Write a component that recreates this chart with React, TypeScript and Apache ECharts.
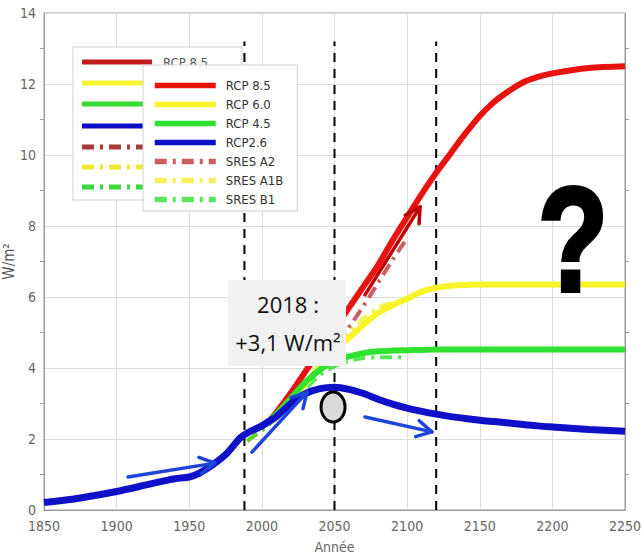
import React, { useEffect, useRef } from "react";
import * as echarts from "echarts";

// Historical forcing (shared start of the blue curve)
const histYears = [1850, 1875, 1900, 1925, 1940, 1950, 1957, 1966, 1976, 1985, 1990, 2000, 2005];
const histValues = [0.21, 0.34, 0.52, 0.75, 0.88, 0.93, 1.04, 1.27, 1.6, 2.03, 2.17, 2.37, 2.5];

// RCP scenarios
const rcpYears = [2005, 2010, 2020, 2030, 2040, 2050, 2060, 2070, 2080, 2090, 2100, 2110, 2120, 2130, 2140, 2150, 2160, 2170, 2180, 2190, 2200, 2225, 2250];
const rcp85 = [2.5, 2.75, 3.3, 3.9, 4.5, 5.1, 5.7, 6.3, 6.9, 7.6, 8.25, 8.9, 9.5, 10.05, 10.6, 11.1, 11.5, 11.8, 12.05, 12.2, 12.3, 12.45, 12.5];
const rcp60 = [2.5, 2.68, 3.1, 3.55, 4.05, 4.5, 4.85, 5.22, 5.55, 5.77, 5.95, 6.15, 6.26, 6.32, 6.34, 6.35, 6.35, 6.35, 6.35, 6.35, 6.35, 6.35, 6.35];
const rcp45 = [2.5, 2.7, 3.15, 3.6, 3.95, 4.2, 4.33, 4.42, 4.47, 4.49, 4.5, 4.51, 4.52, 4.52, 4.52, 4.52, 4.52, 4.52, 4.52, 4.52, 4.52, 4.52, 4.52];
const rcp26 = [2.5, 2.63, 3.0, 3.28, 3.42, 3.46, 3.4, 3.28, 3.12, 2.98, 2.87, 2.78, 2.7, 2.63, 2.58, 2.53, 2.49, 2.45, 2.41, 2.37, 2.34, 2.27, 2.22];

// SRES scenarios
const sresYears = [1990, 2000, 2010, 2020, 2030, 2040, 2050, 2060, 2070, 2080, 2090, 2100];
const sresA2 = [1.95, 2.25, 2.6, 3.0, 3.5, 4.0, 4.55, 5.15, 5.75, 6.4, 7.05, 7.65];
const sresA1B = [1.95, 2.25, 2.6, 3.0, 3.5, 4.0, 4.55, 5.0, 5.4, 5.7, 5.85, 5.95];
const sresB1 = [1.95, 2.25, 2.6, 3.0, 3.4, 3.8, 4.05, 4.2, 4.28, 4.3, 4.3, 4.3];

// Marked years (dashed verticals)
const markYears = [1988, 2050, 2120];
const markTop = 13.2;

// Axis ticks
const xTicks = { min: 1850, max: 2250, interval: 50 };
const yTicks = { min: 0, max: 14, interval: 2 };

const legendNames = ["RCP 8.5", "RCP 6.0", "RCP 4.5", "RCP2.6", "SRES A2", "SRES A1B", "SRES B1"];

// Annotation arrows in data coordinates [from, to]
const blueArrows = [
  [[1907.8, 0.93], [1967.7, 1.32]],
  [[1993.2, 1.63], [2031.1, 3.32]],
  [[2071, 2.62], [2117.1, 2.2]],
];
const redArrow = [[2071, 6.06], [2108.9, 8.54]];
const circleAt = [2049, 2.9];

const zip = (xs: number[], ys: number[]) => xs.map((x, i) => [x, ys[i]]);

const COLORS = {
  r85: "#e8120f",
  r60: "#f7f52a",
  r45: "#2fe22f",
  r26: "#1010c8",
  a2: "#b8282c",
  a1b: "#f2ee20",
  b1: "#22dd22",
};

const AXIS_FONT = "'Liberation Sans Narrow','DejaVu Sans Condensed','Arial Narrow',sans-serif";

export default function App() {
  const ref = useRef<HTMLDivElement>(null);
  useEffect(() => {
    document.body.style.margin = "0";
    const chart = echarts.init(ref.current!, undefined, { renderer: "svg" });
    const dashDot = [12, 6, 3, 6];
    const common = { type: "line", symbol: "none", smooth: 0.3 };
    const series: any[] = [];
    markYears.forEach((yr) => {
      series.push({
        name: "mark" + yr,
        type: "line",
        data: [[yr, 0], [yr, markTop]],
        symbol: "none",
        lineStyle: { color: "#000", width: 2, type: [9, 7] },
        z: 1,
        silent: true,
      });
    });
    series.push(
      { ...common, name: "SRES A2", data: zip(sresYears, sresA2), lineStyle: { color: COLORS.a2, width: 4, type: dashDot, opacity: 0.75 }, itemStyle: { color: COLORS.a2 }, z: 2 },
      { ...common, name: "SRES A1B", data: zip(sresYears, sresA1B), lineStyle: { color: COLORS.a1b, width: 4, type: dashDot, opacity: 0.75 }, itemStyle: { color: COLORS.a1b }, z: 2 },
      { ...common, name: "SRES B1", data: zip(sresYears, sresB1), lineStyle: { color: COLORS.b1, width: 4, type: dashDot, opacity: 0.75 }, itemStyle: { color: COLORS.b1 }, z: 2 },
      { ...common, name: "RCP 8.5", data: zip(rcpYears, rcp85), lineStyle: { color: COLORS.r85, width: 6 }, itemStyle: { color: COLORS.r85 }, z: 3 },
      { ...common, name: "RCP 6.0", data: zip(rcpYears, rcp60), lineStyle: { color: COLORS.r60, width: 6 }, itemStyle: { color: COLORS.r60 }, z: 3 },
      { ...common, name: "RCP 4.5", data: zip(rcpYears, rcp45), lineStyle: { color: COLORS.r45, width: 6 }, itemStyle: { color: COLORS.r45 }, z: 3 },
      { ...common, name: "RCP2.6", data: zip(histYears, histValues).concat(zip(rcpYears, rcp26).slice(1)), lineStyle: { color: COLORS.r26, width: 7 }, itemStyle: { color: COLORS.r26 }, z: 3 }
    );

    chart.setOption({
      animation: false,
      backgroundColor: "#fff",
      grid: { left: 44, right: 17, top: 13, bottom: 50, show: true, borderColor: "#9a9a9a", borderWidth: 1, containLabel: false, outerBoundsMode: "none" },
      xAxis: {
        type: "value",
        min: xTicks.min,
        max: xTicks.max,
        interval: xTicks.interval,
        name: "Année",
        nameLocation: "middle",
        nameGap: 30,
        nameMoveOverlap: false,
        nameTextStyle: { color: "#666", fontSize: 14, fontFamily: AXIS_FONT },
        axisLine: { lineStyle: { color: "#9a9a9a" } },
        axisTick: { show: false },
        axisLabel: { color: "#666", fontSize: 14, fontFamily: AXIS_FONT, margin: 9, formatter: (v: number) => String(v) },
        splitLine: { show: true, lineStyle: { color: "#dddddd", width: 1 } },
      },
      yAxis: [
        {
          type: "value",
          min: yTicks.min,
          max: yTicks.max,
          interval: yTicks.interval,
          name: "W/m²",
          nameLocation: "middle",
          nameGap: 28,
          nameMoveOverlap: false,
          nameRotate: 90,
          nameTextStyle: { color: "#555", fontSize: 15, fontFamily: AXIS_FONT },
          axisLine: { show: true, lineStyle: { color: "#9a9a9a" } },
          axisTick: { show: false },
          minorTick: { show: true, splitNumber: 2, length: 4, lineStyle: { color: "#999" } },
          axisLabel: { color: "#666", fontSize: 14, fontFamily: AXIS_FONT, margin: 8 },
          splitLine: { show: true, lineStyle: { color: "#dddddd", width: 1 } },
        },
        {
          type: "value",
          position: "right",
          min: yTicks.min,
          max: yTicks.max,
          interval: yTicks.interval,
          axisLine: { show: true, lineStyle: { color: "#9a9a9a" } },
          axisTick: { show: false },
          minorTick: { show: true, splitNumber: 2, length: 4, lineStyle: { color: "#999" } },
          axisLabel: { show: false },
          splitLine: { show: false },
        },
      ],
      legend: {
        data: legendNames,
        orient: "vertical",
        left: 143,
        top: 65,
        z: 10,
        padding: [14, 14, 5, 9],
        itemGap: 6,
        itemWidth: 61,
        itemHeight: 14,
        backgroundColor: "#fff",
        borderColor: "#cfcfcf",
        borderWidth: 1,
        selectedMode: false,
        itemStyle: { opacity: 0, borderWidth: 0 },
        lineStyle: { width: 5.5 },
        textStyle: { color: "#333", fontSize: 13, fontFamily: AXIS_FONT, padding: [0, 0, 0, 5] },
      },
      series,
    });

    const px = (p: number[]) => chart.convertToPixel({ gridIndex: 0 }, p) as number[];
    const arrow = (from: number[], to: number[], color: string, width: number) => {
      const a = px(from);
      const b = px(to);
      const ang = Math.atan2(b[1] - a[1], b[0] - a[0]);
      const L = 17;
      const sp = 0.5;
      const h1 = [b[0] - L * Math.cos(ang - sp), b[1] - L * Math.sin(ang - sp)];
      const h2 = [b[0] - L * Math.cos(ang + sp), b[1] - L * Math.sin(ang + sp)];
      return [
        { type: "line", z: 20, shape: { x1: a[0], y1: a[1], x2: b[0], y2: b[1] }, style: { stroke: color, lineWidth: width, lineCap: "round" } },
        { type: "polyline", z: 20, shape: { points: [h1, b, h2] }, style: { stroke: color, lineWidth: width, fill: null, lineCap: "round", lineJoin: "round" } },
      ];
    };

    // back (partially hidden) legend
    const backRows = [62, 83, 104, 126, 147, 167, 187];
    const backStyles = [
      { c: "#c21a1c", t: "solid" },
      { c: "#f5f232", t: "solid" },
      { c: "#33dd33", t: "solid" },
      { c: "#0c0cc4", t: "solid" },
      { c: "#a83b3b", t: "dd" },
      { c: "#eeea30", t: "dd" },
      { c: "#3ad83a", t: "dd" },
    ];
    const backLegend: any[] = [
      { type: "rect", z: 8, shape: { x: 73, y: 47, width: 169, height: 153 }, style: { fill: "#fff", stroke: "#cfcfcf", lineWidth: 1 } },
      { type: "text", z: 8, style: { x: 163, y: 62, text: "RCP 8.5", fill: "#555", fontSize: 13, fontFamily: AXIS_FONT, verticalAlign: "middle" } },
    ];
    backRows.forEach((y, i) => {
      backLegend.push({
        type: "line",
        z: 8,
        shape: { x1: 82, y1: y, x2: 152, y2: y },
        style: { stroke: backStyles[i].c, lineWidth: 5, lineDash: backStyles[i].t === "dd" ? [12, 6, 3, 6] : null },
      });
    });

    const c = px(circleAt);
    const graphics: any[] = [
      ...backLegend,
      { type: "rect", z: 15, shape: { x: 228, y: 280, width: 118, height: 86 }, style: { fill: "#f1f1f1" } },
      { type: "text", z: 16, style: { x: 288, y: 304, text: "2018 :", fill: "#111", fontSize: 22, fontFamily: "'Open Sans','Noto Sans',sans-serif", align: "center", verticalAlign: "middle" } },
      { type: "text", z: 16, style: { x: 288, y: 342, text: "+3,1 W/m²", fill: "#111", fontSize: 22, fontFamily: "'Open Sans','Noto Sans',sans-serif", align: "center", verticalAlign: "middle" } },
      { type: "text", z: 16, x: 573, y: 240, scaleX: 0.78, style: { x: 0, y: 0, text: "?", fill: "#000", stroke: "#000", lineWidth: 4, fontSize: 148, fontWeight: "bold", fontFamily: "'Liberation Sans','DejaVu Sans',sans-serif", align: "center", verticalAlign: "middle" } },
      { type: "ellipse", z: 16, shape: { cx: c[0], cy: c[1], rx: 12, ry: 15 }, style: { fill: "#d9d9d9", stroke: "#000", lineWidth: 3 } },
      ...arrow(redArrow[0], redArrow[1], "#c00000", 3.5),
      ...blueArrows.flatMap((a) => arrow(a[0], a[1], "#1f45d8", 3.5)),
    ];
    chart.setOption({ graphic: graphics });

    return () => chart.dispose();
  }, []);
  return <div ref={ref} style={{ width: 642, height: 560 }} />;
}
